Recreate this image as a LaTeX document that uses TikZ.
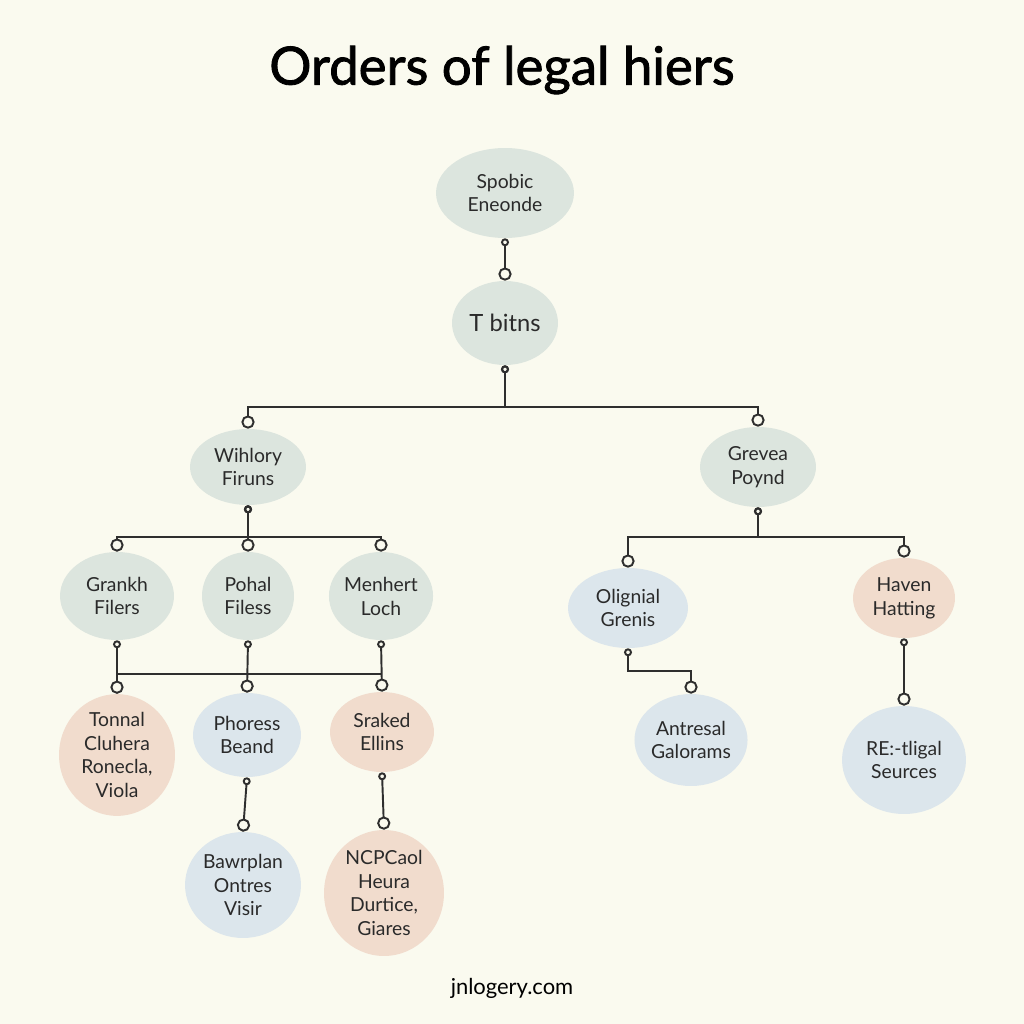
\documentclass[tikz,border=0pt]{standalone}
\usepackage{fontspec}
\setmainfont{Lato}
\newfontfamily\titlefont[FakeBold=1.6]{Lato}
\usepackage{tikz}
\usetikzlibrary{shapes.geometric,arrows.meta}
\definecolor{lhBack}{HTML}{FAFAEF}
\definecolor{lhLine}{HTML}{2E2E2E}
\definecolor{lhSage}{HTML}{DCE5DE}
\definecolor{lhBlue}{HTML}{DCE6EC}
\definecolor{lhPeach}{HTML}{F1DCCD}
\definecolor{lhText}{HTML}{2A2A2A}

\begin{document}
\begin{tikzpicture}[
  x=0.02cm, y=-0.02cm,
  every node/.style={transform shape=false},
  oval/.style={
    ellipse, inner sep=0pt, align=center,
    text=lhText, font=\fontsize{11}{13.6}\selectfont
  },
  % radii of the ellipse, in pixels of the picture
  rad/.style 2 args={minimum width=#1*0.04cm, minimum height=#2*0.04cm},
  sage/.style={oval, fill=lhSage},
  blue/.style={oval, fill=lhBlue},
  peach/.style={oval, fill=lhPeach},
  link/.style={
    {Circle[open,length=4.5pt]}-{Circle[open,length=7.5pt]},
    draw=lhLine, line width=1.1pt
  },
  wire/.style={draw=lhLine, line width=1.1pt}
]

\fill[lhBack] (0,0) rectangle (1024,1024);

% ---- title and footer ------------------------------------------------------
\node[font=\titlefont\fontsize{30}{34}\selectfont, text=black] (title) at (502,70) {Orders of legal hiers};
\node[font=\fontsize{12.5}{15}\selectfont, text=black] (foot) at (512,988) {jnlogery.com};

% ---- nodes -------------------------------------------------------------------
\node[sage, rad={69}{45}] (se) at (505,193) {Spobic\\Eneonde};
\node[sage, rad={53}{42}, font=\fontsize{13.5}{16}\selectfont] (tb) at (505,323) {T bitns};

\node[sage, rad={58}{38}] (wf) at (248,467) {Wihlory\\Firuns};
\node[sage, rad={58}{40}] (gp) at (758,467) {Grevea\\Poynd};

\node[sage, rad={57}{44}] (gf) at (117,596) {Grankh\\Filers};
\node[sage, rad={46}{44}] (pf) at (248,596) {Pohal\\Filess};
\node[sage, rad={48}{44}] (ml) at (381,596) {Menhert\\Loch};
\node[blue, rad={60}{40}] (og) at (628,608) {Olignial\\Grenis};
\node[peach, rad={51}{40}] (hh) at (904,598) {Haven\\Hatting};

\node[peach, rad={58}{55}] (tc) at (117,755) {Tonnal\\Cluhera\\Ronecla,\\Viola};
\node[blue, rad={54}{42}] (pb) at (247,735) {Phoress\\Beand};
\node[peach, rad={52}{40}] (sk) at (382,732) {Sraked\\Ellins};
\node[blue, rad={54}{46}] (ag) at (691,740) {Antresal\\Galorams};
\node[blue, rad={62}{54}] (rs) at (904,760) {RE:-tligal\\Seurces};

\node[blue, rad={58}{53}] (bo) at (243,885) {Bawrplan\\Ontres\\Visir};
\node[peach, rad={60}{63}] (nh) at (384,893) {NCPCaol\\Heura\\Durtice,\\Giares};

% ---- connectors --------------------------------------------------------------
\coordinate (bar) at (0,674);

\draw[link] (se.south) -- (tb.north);

\draw[link] (tb.south) -- ++(0,42) -| (wf.north);
\draw[link] (tb.south) -- ++(0,42) -| (gp.north);

\draw[link] (wf.south) -- ++(0,32) -| (gf.north);
\draw[link] (wf.south) -- (pf.north);
\draw[link] (wf.south) -- ++(0,32) -| (ml.north);

\draw[link] (gf.south) -- (tc.north);
\draw[link] (pf.south) -- (pb.north);
\draw[link] (ml.south) -- (sk.north);
\draw[wire] (gf |- bar) -- (ml |- bar);

\draw[link] (pb.south) -- (bo.north);
\draw[link] (sk.south) -- (nh.north);

\draw[link] (gp.south) -- ++(0,30) -| (og.north);
\draw[link] (gp.south) -- ++(0,30) -| (hh.north);

\draw[link] (og.south) -- ++(0,23) -| (ag.north);
\draw[link] (hh.south) -- (rs.north);

\end{tikzpicture}
\end{document}
